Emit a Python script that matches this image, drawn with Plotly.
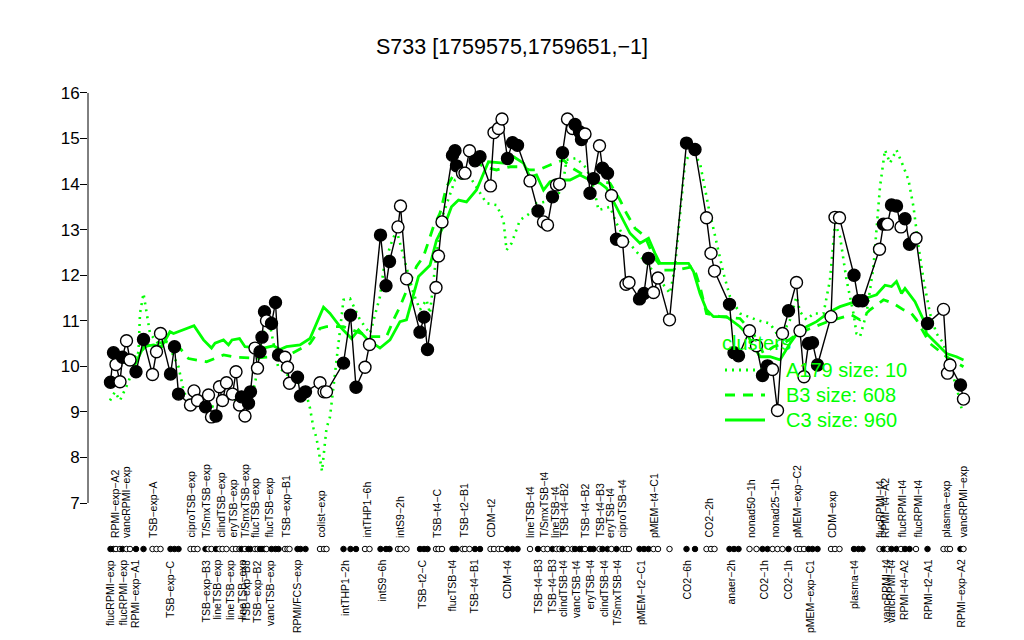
import plotly.graph_objects as go

# ---------------- data ----------------
title_text = "S733 [1759575,1759651,\u22121]"

sample_x = [2.1, 2.7, 3.2, 4.0, 4.5, 5.3, 6.0, 7.2, 8.7, 10.5, 11.3, 12.1, 14.1, 14.9, 15.7,
            18.1, 18.8, 19.5, 21.1, 21.7, 22.3, 23.2, 23.9, 24.5, 25.3, 26.5, 27.2, 27.9, 28.3,
            29.0, 29.7, 30.1, 31.0, 31.5, 32.0, 32.4, 32.9, 33.3, 34.3, 35.1, 35.7, 37.0, 37.5,
            37.9, 39.5, 40.1, 41.1, 44.0, 44.8, 45.3, 48.7, 50.1, 51.2, 53.0, 53.9, 56.1, 57.2,
            57.9, 59.6, 60.1, 61.3, 64.0, 64.8, 65.5, 67.2, 67.7, 68.4, 70.5, 71.0, 71.3, 72.5,
            73.0, 73.9, 75.0, 76.0, 78.1, 78.8, 79.7, 80.4, 81.5, 82.5, 83.5, 86.0, 87.6, 88.7,
            89.5, 90.5, 91.3, 91.9, 92.5, 93.5, 94.5, 95.0, 95.9, 96.3, 97.0, 98.0, 98.7, 99.9,
            100.5, 101.5, 102.3, 103.3, 104.5, 105.2, 105.8, 107.9, 108.8, 109.7, 110.7, 111.6,
            113.9, 117.3, 119.0, 121.3, 122.2, 122.9, 125.9, 126.8, 127.7, 129.9, 131.3, 132.5,
            133.5, 134.5, 135.5, 136.5, 137.7, 139.3, 140.0, 140.8, 141.7, 142.5, 143.5, 146.2,
            147.0, 147.9, 150.8, 151.7, 152.5, 155.9, 156.7, 157.5, 158.3, 159.3, 160.2, 161.0,
            161.9, 163.2, 165.5, 168.7, 169.5, 170.0, 172.1, 172.7]

sample_y = [9.65, 10.30, 10.04, 9.66, 10.20, 10.56, 10.14, 9.88, 10.59, 9.82, 10.32, 10.72, 9.83,
            10.43, 9.39, 9.15, 9.46, 9.25, 9.11, 9.37, 8.89, 8.91, 9.55, 9.25, 9.64, 9.39, 9.88,
            9.15, 9.33, 8.91, 9.19, 9.44, 10.40, 9.96, 10.32, 10.64, 11.20, 11.00, 10.94, 11.40,
            10.25, 10.20, 9.98, 9.63, 9.76, 9.35, 9.44, 9.64, 9.44, 9.44, 10.07, 11.12, 9.54,
            9.98, 10.48, 12.88, 11.77, 12.30, 13.06, 13.52, 11.92, 10.75, 11.08, 10.37, 11.73,
            12.42, 13.17, 14.63, 14.73, 14.40, 14.24, 14.24, 14.73, 14.51, 14.60, 13.96, 15.13,
            15.22, 15.43, 14.56, 14.91, 14.85, 14.07, 13.41, 13.17, 13.10, 13.72, 13.98, 14.00,
            14.69, 15.43, 15.22, 15.31, 15.15, 14.98, 15.10, 13.80, 14.12, 14.84, 14.35, 14.24,
            13.75, 12.79, 12.74, 11.80, 11.84, 11.48, 11.60, 12.37, 11.62, 11.94, 11.02, 14.90,
            14.76, 13.26, 12.48, 12.09, 11.36, 10.30, 10.23, 10.78, 10.45, 9.80, 10.01, 9.93,
            9.03, 10.72, 11.22, 11.84, 10.78, 9.77, 10.50, 10.52, 10.03, 11.09, 13.27, 13.26,
            12.00, 11.44, 11.44, 12.57, 13.12, 13.12, 13.54, 13.52, 13.06, 13.24, 12.68, 12.81,
            10.94, 11.25, 9.85, 10.03, 9.59, 9.28]

sample_filled = [1, 1, 0, 0, 1, 0, 0, 1, 1, 0, 0, 0, 1, 1, 1, 0, 0, 0, 1, 0, 0, 1, 0, 0, 0, 0,
                 0, 0, 1, 0, 1, 1, 0, 0, 1, 1, 1, 0, 1, 1, 1, 0, 0, 0, 1, 1, 1, 0, 0, 0, 1, 1,
                 1, 0, 0, 1, 1, 1, 0, 0, 0, 1, 1, 1, 0, 0, 0, 1, 1, 1, 0, 0, 0, 1, 1, 0, 0, 0,
                 0, 1, 1, 1, 0, 1, 0, 0, 1, 0, 0, 1, 0, 0, 1, 1, 1, 0, 1, 1, 0, 1, 1, 0, 1, 0,
                 0, 0, 1, 1, 1, 0, 0, 0, 1, 1, 0, 0, 0, 1, 1, 1, 0, 0, 1, 1, 0, 0, 0, 1, 0, 0,
                 0, 1, 1, 1, 0, 0, 0, 1, 1, 1, 0, 1, 0, 1, 1, 0, 1, 1, 0, 1, 0, 0, 0, 1, 0]

# cluster mean profiles (green)
c3_x = [2.1, 4.5, 7.0, 8.7, 10.7, 12.3, 14.0, 14.7, 18.8, 20.7, 22.3, 23.0, 24.7, 25.7, 26.4,
        27.9, 29.0, 31.0, 32.7, 34.7, 36.0, 37.3, 40.0, 42.0, 44.7, 46.0, 48.0, 50.3, 51.7,
        53.3, 56.0, 58.0, 60.0, 61.3, 63.7, 66.0, 67.3, 69.3, 70.3, 71.7, 73.3, 75.3, 76.7,
        77.7, 80.7, 82.7, 84.7, 86.0, 87.3, 88.7, 90.0, 91.3, 94.0, 96.0, 98.7, 100.0, 101.3,
        102.7, 104.3, 106.0, 108.0, 109.7, 111.0, 112.0, 117.7, 118.7, 120.0, 121.3, 122.7,
        125.3, 128.0, 129.3, 132.0, 134.0, 136.0, 138.0, 139.3, 141.3, 143.3, 146.0, 148.0,
        151.3, 155.3, 157.0, 158.3, 159.3, 160.3, 161.0, 163.0, 164.7, 165.3, 167.3, 169.3,
        171.3, 172.7]
c3_y = [10.10, 10.10, 10.03, 10.43, 10.47, 10.43, 10.76, 10.72, 10.89, 10.58, 10.40, 10.51,
        10.58, 10.47, 10.58, 10.61, 10.43, 10.42, 10.40, 10.45, 10.37, 10.43, 10.47, 10.61,
        11.30, 11.16, 10.87, 10.61, 10.80, 10.61, 10.40, 10.58, 10.98, 11.02, 11.97, 12.22,
        12.77, 13.21, 13.50, 13.65, 13.61, 13.87, 14.24, 14.49, 14.46, 14.60, 14.46, 14.16,
        14.20, 13.87, 14.05, 14.09, 14.09, 14.20, 14.05, 14.02, 13.91, 13.61, 13.25, 12.92,
        12.70, 12.81, 12.48, 12.26, 12.26, 12.08, 11.60, 11.24, 11.09, 11.09, 10.87, 10.72,
        10.21, 10.21, 10.14, 10.50, 10.70, 10.87, 10.98, 11.20, 11.31, 11.42, 11.57, 11.78,
        11.75, 11.86, 11.60, 11.71, 11.42, 11.02, 10.72, 10.50, 10.28, 10.21, 10.14]

b3_x = [2.1, 7.0, 9.3, 13.3, 15.6, 17.7, 21.3, 24.7, 27.0, 31.0, 34.7, 38.3, 42.0, 44.0, 45.3,
        48.7, 51.6, 54.0, 57.3, 58.7, 60.0, 61.7, 63.3, 64.7, 66.7, 68.0, 69.3, 70.7, 73.3,
        75.3, 76.7, 79.3, 82.0, 84.0, 86.0, 87.7, 90.0, 92.7, 94.0, 98.0, 102.0, 104.0, 105.3,
        107.0, 109.0, 110.7, 112.7, 115.3, 118.7, 120.0, 121.3, 124.0, 128.0, 130.7, 132.7,
        134.7, 136.7, 139.4, 142.0, 146.0, 150.3, 152.0, 154.0, 156.7, 158.7, 160.7, 162.3,
        163.3, 166.0, 169.3, 171.3, 172.7]
b3_y = [10.00, 10.20, 10.45, 10.54, 10.45, 10.17, 10.10, 10.25, 10.20, 10.18, 10.21, 10.28,
        10.50, 10.83, 10.87, 10.87, 10.75, 10.65, 10.65, 11.02, 11.31, 11.75, 12.19, 12.41,
        13.07, 13.36, 13.94, 14.20, 14.34, 14.49, 14.38, 14.31, 14.38, 14.38, 14.31, 14.31,
        14.42, 14.53, 14.38, 14.12, 14.02, 13.65, 13.36, 13.03, 12.85, 12.41, 12.11, 12.11,
        12.19, 11.75, 11.16, 11.09, 11.05, 10.72, 10.28, 10.43, 10.50, 10.70, 10.83, 11.00,
        11.13, 11.02, 11.24, 11.46, 11.38, 11.24, 11.16, 11.02, 10.50, 10.21, 10.07, 9.99]

a179_x = [2.0, 3.0, 4.0, 5.7, 7.7, 8.0, 8.7, 9.3, 10.0, 12.0, 14.0, 15.7, 16.7, 17.3, 18.3,
          20.0, 23.0, 26.0, 29.0, 31.0, 32.4, 34.0, 35.6, 37.0, 39.0, 41.0, 42.0, 42.7, 43.3,
          44.4, 45.3, 46.0, 47.3, 48.7, 50.0, 52.0, 54.0, 56.0, 56.7, 58.0, 59.3, 61.3, 62.7,
          64.0, 65.3, 66.0, 67.3, 68.7, 70.0, 71.0, 74.0, 77.3, 79.3, 80.7, 81.3, 82.3, 84.0,
          86.0, 87.3, 91.3, 92.7, 93.3, 95.3, 97.3, 98.7, 99.7, 102.0, 103.3, 104.7, 106.7,
          108.7, 110.7, 112.7, 114.0, 115.0, 116.0, 117.0, 118.3, 120.0, 121.7, 123.3, 124.7,
          126.0, 128.0, 131.3, 134.0, 136.0, 138.0, 139.3, 140.0, 141.3, 142.7, 144.7, 146.0,
          147.0, 148.0, 149.3, 150.7, 151.3, 152.0, 153.3, 154.7, 156.0, 157.0, 158.0, 159.3,
          160.7, 161.7, 162.7, 163.7, 164.7, 166.0, 167.3, 168.7, 170.0, 171.3, 172.3]
a179_y = [9.25, 9.44, 9.25, 9.66, 10.32, 11.16, 11.60, 11.16, 10.72, 10.45, 10.40, 9.99, 9.48,
          9.30, 9.04, 9.20, 9.10, 9.35, 9.10, 9.60, 10.70, 10.90, 10.00, 9.85, 9.70, 9.50, 9.08,
          8.64, 8.43, 7.70, 8.64, 8.89, 10.07, 11.46, 11.49, 11.02, 10.72, 11.53, 12.11, 12.63,
          12.99, 12.19, 11.60, 11.24, 11.46, 11.16, 12.48, 13.36, 13.80, 14.09, 14.16, 13.58,
          13.54, 13.21, 12.55, 12.70, 13.21, 13.36, 13.58, 13.65, 14.09, 14.53, 14.57, 14.35,
          13.94, 13.43, 13.50, 13.14, 12.85, 12.59, 12.33, 12.08, 11.79, 11.60, 12.19, 13.36,
          14.46, 14.75, 14.46, 13.50, 12.70, 12.04, 11.53, 11.16, 11.02, 10.94, 10.61, 11.02,
          11.53, 11.20, 11.02, 11.16, 11.16, 11.90, 13.14, 12.85, 11.90, 11.16, 10.72, 10.65,
          11.16, 12.19, 13.94, 14.75, 14.46, 14.75, 14.38, 14.09, 13.50, 12.63, 11.90, 11.16,
          10.72, 10.50, 9.99, 9.55, 9.08]

legend_labels = ["A179 size: 10", "B3 size: 608", "C3 size: 960"]
legend_title = "clusters"

y_ticks = [7, 8, 9, 10, 11, 12, 13, 14, 15, 16]

top_label_x = [3.0, 5.2, 10.5, 18.1, 21.2, 24.0, 26.5, 29.0, 31.0, 33.7, 37.0, 44.0, 53.3,
               60.0, 67.3, 72.7, 78.0, 86.0, 88.7, 91.0, 92.7, 97.0, 99.9, 102.0, 104.3, 110.7,
               121.7, 130.1, 134.8, 139.3, 146.3, 156.0, 157.0, 160.3, 163.5, 169.0, 172.5]
top_label_text = ["RPMI\u2212exp\u2212A2", "vancRPMI\u2212exp", "TSB\u2212exp\u2212A",
                  "ciproTSB\u2212exp", "T/SmxTSB\u2212exp", "clindTSB\u2212exp", "eryTSB\u2212exp",
                  "T/SmxTSB\u2212exp", "flucTSB\u2212exp", "flucTSB\u2212exp", "TSB\u2212exp\u2212B1",
                  "colist\u2212exp", "intTHP1\u22126h", "intS9\u22122h", "TSB\u2212t4\u2212C",
                  "TSB\u2212t2\u2212B1", "CDM\u2212t2", "lineTSB\u2212t4", "T/SmxTSB\u2212t4",
                  "lineTSB\u2212t4", "TSB\u2212t4\u2212B2", "TSB\u2212t4\u2212B2", "TSB\u2212t4\u2212B3",
                  "eryTSB\u2212t4", "ciproTSB\u2212t4", "pMEM\u2212t4\u2212C1", "CO2\u22122h",
                  "nonad50\u22121h", "nonad25\u22121h", "pMEM\u2212exp\u2212C2", "CDM\u2212exp",
                  "flucRPMI\u2212t4", "RPMI\u2212t4\u2212A2", "flucRPMI\u2212t4", "flucRPMI\u2212t4",
                  "plasma\u2212exp", "vancRPMI\u2212exp"]

bottom_label_x = [2.0, 4.5, 7.0, 14.0, 21.0, 23.3, 26.0, 28.3, 29.0, 31.3, 34.0, 39.3, 49.0,
                  56.3, 64.3, 70.3, 74.7, 81.3, 87.5, 90.3, 92.5, 95.2, 97.9, 100.7, 103.3,
                  108.1, 117.3, 126.0, 132.7, 137.5, 141.9, 150.7, 157.0, 158.1, 160.8, 165.5,
                  172.1]
bottom_label_text = ["flucRPMI\u2212exp", "flucRPMI\u2212exp", "RPMI\u2212exp\u2212A1",
                     "TSB\u2212exp\u2212C", "TSB\u2212exp\u2212B3", "lineTSB\u2212exp", "lineTSB\u2212exp",
                     "lineTSB\u2212exp", "TSB\u2212exp\u2212B3", "TSB\u2212exp\u2212B2", "vancTSB\u2212exp",
                     "RPMI/FCS\u2212exp", "intTHP1\u22122h", "intS9\u22126h", "TSB\u2212t2\u2212C",
                     "flucTSB\u2212t4", "TSB\u2212t4\u2212B1", "CDM\u2212t4", "TSB\u2212t4\u2212B3",
                     "TSB\u2212t4\u2212B3", "clindTSB\u2212t4", "vancTSB\u2212t4", "eryTSB\u2212t4",
                     "clindTSB\u2212t4", "T/SmxTSB\u2212t4", "pMEM\u2212t2\u2212C1", "CO2\u22126h",
                     "anaer\u22122h", "CO2\u22121h", "CO2\u22121h", "pMEM\u2212exp\u2212C1", "plasma\u2212t4",
                     "vancRPMI\u2212t4", "vancRPMI\u2212t4", "RPMI\u2212t4\u2212A2", "RPMI\u2212t2\u2212A1",
                     "RPMI\u2212exp\u2212A2"]

# ---------------- layout geometry ----------------
# The page body adds an 8px margin, so the figure is drawn 8px smaller and offset.
OFF = 8
REF_W, REF_H = 1024, 640
W, H = REF_W - OFF, REF_H - OFF
PLOT_L, PLOT_R, PLOT_T, PLOT_B = 88, 990, 60, 640   # plot area in reference pixels
ML, MR = PLOT_L - OFF, REF_W - PLOT_R
MT, MB = PLOT_T - OFF, 0
PX_PER_UNIT = 45.56           # vertical pixels per y unit
Y7_PX = 503                   # reference pixel row of y = 7
y_top = 7 + (Y7_PX - PLOT_T) / PX_PER_UNIT
y_bot = 7 - (PLOT_B - Y7_PX) / PX_PER_UNIT
x_range = [-2.4, 178.0]

def y_at(py):
    return 7 - (py - Y7_PX) / PX_PER_UNIT

def px_x(px):
    return (px - PLOT_L) / (PLOT_R - PLOT_L)

def px_y(py):
    return (PLOT_B - py) / (PLOT_B - PLOT_T)

GREEN = "#00FF00"
FONT = "Liberation Sans, Arial, Helvetica, sans-serif"

fig = go.Figure()

fig.add_trace(go.Scatter(x=a179_x, y=a179_y, mode="lines",
                         line=dict(color=GREEN, width=2.6, dash="2px,5px"),
                         hoverinfo="skip", showlegend=False))
fig.add_trace(go.Scatter(x=b3_x, y=b3_y, mode="lines",
                         line=dict(color=GREEN, width=2.8, dash="10px,8px"),
                         hoverinfo="skip", showlegend=False))
fig.add_trace(go.Scatter(x=c3_x, y=c3_y, mode="lines",
                         line=dict(color=GREEN, width=2.8),
                         hoverinfo="skip", showlegend=False))

fill_colors = ["black" if f else "white" for f in sample_filled]
fig.add_trace(go.Scatter(x=sample_x, y=sample_y, mode="lines+markers",
                         line=dict(color="black", width=1.4),
                         marker=dict(size=12, color=fill_colors,
                                     line=dict(color="black", width=1.4)),
                         showlegend=False))

# sample strip under the plot
row_y = y_at(549)
fig.add_trace(go.Scatter(x=sample_x, y=[row_y] * len(sample_x), mode="markers",
                         marker=dict(size=5.5, color=fill_colors,
                                     line=dict(color="black", width=1)),
                         showlegend=False, hoverinfo="skip"))

annotations = []
top_y = y_at(539)
for xv, t in zip(top_label_x, top_label_text):
    annotations.append(dict(x=xv, y=top_y, xref="x", yref="y", text=t, textangle=-90,
                            showarrow=False, xanchor="center", yanchor="bottom",
                            font=dict(family=FONT, size=10.5, color="black"), borderpad=0))
bot_y = y_at(559)
for xv, t in zip(bottom_label_x, bottom_label_text):
    annotations.append(dict(x=xv, y=bot_y, xref="x", yref="y", text=t, textangle=-90,
                            showarrow=False, xanchor="center", yanchor="top",
                            font=dict(family=FONT, size=10.5, color="black"), borderpad=0))

# title
annotations.append(dict(x=px_x(512), y=px_y(47), xref="paper", yref="paper",
                        text=title_text, showarrow=False, xanchor="center", yanchor="middle",
                        font=dict(family=FONT, size=21.5, color="black")))

# legend
annotations.append(dict(x=px_x(756), y=px_y(343), xref="paper", yref="paper",
                        text=legend_title, showarrow=False, xanchor="center", yanchor="middle",
                        font=dict(family=FONT, size=20, color=GREEN)))
shapes = []
leg_rows = [370, 395, 420]
leg_dash = ["2px,5px", "10px,8px", "solid"]
for lab, py, dsh in zip(legend_labels, leg_rows, leg_dash):
    annotations.append(dict(x=px_x(784), y=px_y(py), xref="paper", yref="paper",
                            text=lab, showarrow=False, xanchor="left", yanchor="middle",
                            font=dict(family=FONT, size=20, color=GREEN)))
    shapes.append(dict(type="line", xref="paper", yref="paper",
                       x0=px_x(725), x1=px_x(765), y0=px_y(py), y1=px_y(py),
                       line=dict(color=GREEN, width=2.8, dash=dsh), layer="below"))

# y axis line (only from 7 to 16)
shapes.append(dict(type="line", xref="paper", yref="y", x0=0, x1=0, y0=y_ticks[0],
                   y1=y_ticks[-1], line=dict(color="black", width=1)))

fig.update_layout(
    width=W, height=H,
    margin=dict(l=ML, r=MR, t=MT, b=MB, pad=0),
    paper_bgcolor="white", plot_bgcolor="white",
    annotations=annotations, shapes=shapes,
    xaxis=dict(range=x_range, visible=False, showgrid=False, zeroline=False),
    yaxis=dict(range=[y_bot, y_top], tickvals=y_ticks, ticktext=[str(v) for v in y_ticks],
               ticks="outside", ticklen=7, tickwidth=1, tickcolor="black",
               ticklabelstandoff=-3,
               showline=False, showgrid=False, zeroline=False,
               tickfont=dict(family=FONT, size=17, color="black")),
    showlegend=False,
)

fig.write_html("out.html")
